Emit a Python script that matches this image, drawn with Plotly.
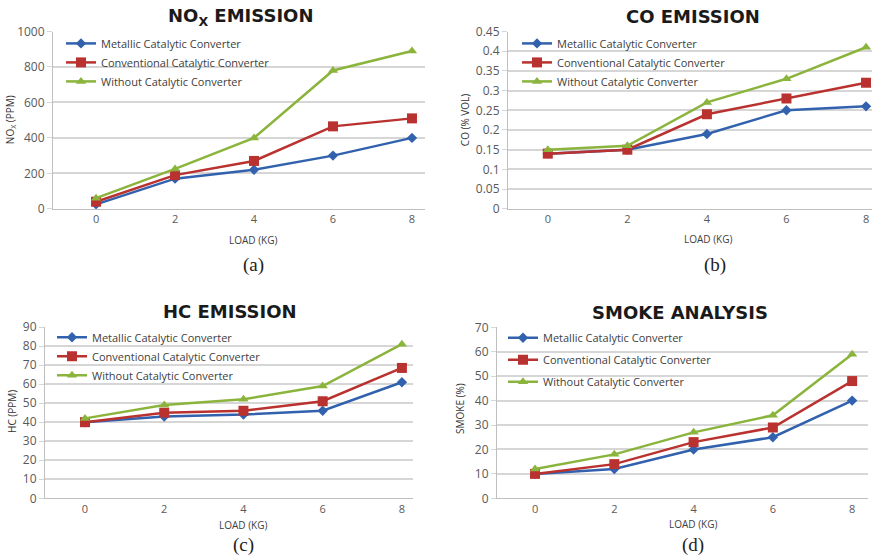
import plotly.graph_objects as go

W, H = 874, 559

load = [0, 2, 4, 6, 8]
series_names = ["Metallic Catalytic Converter", "Conventional Catalytic Converter", "Without Catalytic Converter"]

nox_metallic = [25, 170, 220, 300, 400]
nox_conventional = [40, 190, 270, 465, 510]
nox_without = [60, 225, 400, 780, 890]

co_metallic = [0.14, 0.15, 0.19, 0.25, 0.26]
co_conventional = [0.14, 0.15, 0.24, 0.28, 0.32]
co_without = [0.15, 0.16, 0.27, 0.33, 0.41]

hc_metallic = [40, 43, 44, 46, 61]
hc_conventional = [40, 45, 46, 51, 68.5]
hc_without = [42, 49, 52, 59, 81]

smoke_metallic = [10, 12, 20, 25, 40]
smoke_conventional = [10, 14, 23, 29, 48]
smoke_without = [12, 18, 27, 34, 59]

colors = ["#3262AE", "#B9322F", "#8BB43D"]
symbols = ["diamond", "square", "triangle-up"]
msizes = [8, 10, 9]


def vy(y):
    # compensate the vertical offset/scale observed in the screenshot
    return (y - 6.4) / 0.9735


def px(x):
    return x / W


def py(y):
    return 1 - vy(y) / H


LEG_OFF = 14.5  # px from legend top to first row centre

panels = [
    dict(data=[nox_metallic, nox_conventional, nox_without], box=(53, 425, 29, 207),
         xr=[-1.09, 8.33], yr=[0, 1000], dt=200, leg=(61, 40.5), lgap=0,
         title="NO<sub>X</sub> EMISSION", tpos=(240, 14.5), ytitle="NO<sub>X</sub> (PPM)", ytpos=(10, 118),
         xtpos=(253, 238), cap="(a)", cpos=(253, 263)),
    dict(data=[co_metallic, co_conventional, co_without], box=(508, 872, 29, 207),
         xr=[-1.0, 8.15], yr=[0, 0.45], dt=0.05, leg=(517, 40.5), lgap=0,
         title="CO EMISSION", tpos=(693, 13.5), ytitle="CO (% VOL)", ytpos=(465, 118),
         xtpos=(708, 237), cap="(b)", cpos=(715, 263)),
    dict(data=[hc_metallic, hc_conventional, hc_without], box=(45, 413, 325.7, 497.7),
         xr=[-1.01, 8.28], yr=[0, 90], dt=10, leg=(52, 335.5), lgap=0,
         title="HC EMISSION", tpos=(230, 310), ytitle="HC (PPM)", ytpos=(12, 411),
         xtpos=(243, 524), cap="(c)", cpos=(243, 545)),
    dict(data=[smoke_metallic, smoke_conventional, smoke_without], box=(497, 868, 326, 497.7),
         xr=[-0.96, 8.4], yr=[0, 70], dt=10, leg=(503, 336), lgap=3,
         title="SMOKE ANALYSIS", tpos=(680, 311), ytitle="SMOKE (%)", ytpos=(460, 408),
         xtpos=(693, 523.5), cap="(d)", cpos=(693, 545)),
]

fig = go.Figure()
annotations = []
layout = {}
FONT = "Open Sans"

for i, p in enumerate(panels):
    n = i + 1
    xa = "x" if n == 1 else f"x{n}"
    ya = "y" if n == 1 else f"y{n}"
    lg = "legend" if n == 1 else f"legend{n}"
    for k in range(3):
        fig.add_trace(go.Scatter(
            x=load, y=p["data"][k], name=series_names[k], xaxis=xa, yaxis=ya, legend=lg,
            legendgroup=f"p{n}s{k}",
            mode="lines+markers", cliponaxis=False,
            line=dict(color=colors[k], width=2.5),
            marker=dict(symbol=symbols[k], size=msizes[k], color=colors[k]),
        ))
    x0, x1, y0, y1 = p["box"]
    xkey = "xaxis" if n == 1 else f"xaxis{n}"
    ykey = "yaxis" if n == 1 else f"yaxis{n}"
    layout[xkey] = dict(domain=[px(x0), px(x1)], range=p["xr"], anchor=ya,
                        tickvals=load, showgrid=False, zeroline=False,
                        showline=True, linecolor="#BFBFBF", linewidth=1,
                        ticks="", tickfont=dict(family=FONT, size=11, color="#595959"),
                        fixedrange=True)
    layout[ykey] = dict(domain=[py(y1), py(y0)], range=p["yr"], anchor=xa,
                        dtick=p["dt"], tick0=0, showgrid=True, gridcolor="#D6D6D6", gridwidth=1.5,
                        zeroline=False, showline=True, linecolor="#BFBFBF", linewidth=1,
                        ticks="outside", ticklen=5, tickcolor="#D6D6D6",
                        tickfont=dict(family=FONT, size=12, color="#595959"),
                        fixedrange=True)
    lx, lrow = p["leg"]
    ltop_int = vy(lrow) - LEG_OFF
    layout[lg] = dict(x=px(lx), y=1 - ltop_int / H, xanchor="left", yanchor="top",
                      bgcolor="rgba(255,255,255,0)", borderwidth=0,
                      font=dict(family=FONT, size=11, color="#404040"),
                      itemwidth=30, tracegroupgap=p["lgap"])
    annotations.append(dict(text="<b>" + p["title"] + "</b>", x=px(p["tpos"][0]), y=py(p["tpos"][1]),
                            xref="paper", yref="paper", showarrow=False,
                            xanchor="center", yanchor="middle",
                            font=dict(family="DejaVu Sans", size=18, color="#1A1A1A")))
    annotations.append(dict(text=p["ytitle"], x=px(p["ytpos"][0]), y=py(p["ytpos"][1]),
                            xref="paper", yref="paper", showarrow=False, textangle=-90,
                            xanchor="center", yanchor="middle",
                            font=dict(family=FONT, size=10, color="#333333")))
    annotations.append(dict(text="LOAD (KG)", x=px(p["xtpos"][0]), y=py(p["xtpos"][1]),
                            xref="paper", yref="paper", showarrow=False,
                            xanchor="center", yanchor="middle",
                            font=dict(family=FONT, size=10, color="#404040")))
    annotations.append(dict(text=p["cap"], x=px(p["cpos"][0]), y=py(p["cpos"][1]),
                            xref="paper", yref="paper", showarrow=False,
                            xanchor="center", yanchor="middle",
                            font=dict(family="Liberation Serif", size=19, color="#222222")))

fig.update_layout(
    width=W, height=H, margin=dict(l=0, r=0, t=0, b=0),
    paper_bgcolor="white", plot_bgcolor="white",
    annotations=annotations, **layout,
)

fig.write_html(
    "out.html",
    config={"displayModeBar": False, "responsive": False},
    post_script="document.body.style.margin='0';document.documentElement.style.overflow='hidden';document.body.style.overflow='hidden';",
)
